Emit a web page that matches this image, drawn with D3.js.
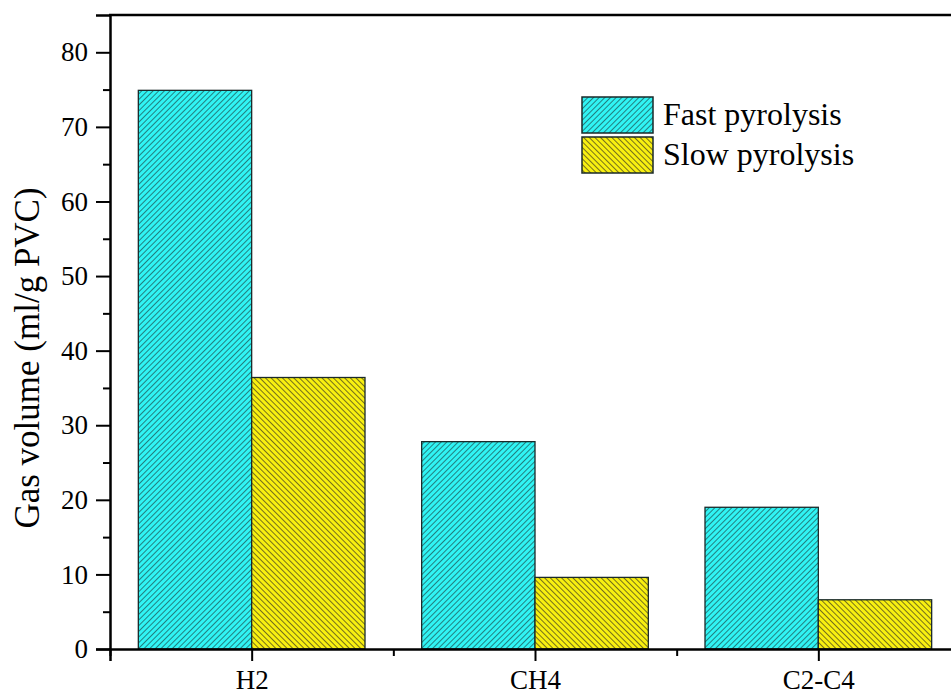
<!DOCTYPE html>
<html>
<head>
<meta charset="utf-8">
<script src="https://cdn.jsdelivr.net/npm/d3@7"></script>
<style>
  body { margin: 0; background: #fff; }
  svg { display: block; font-family: "Liberation Serif", "Times New Roman", serif; }
</style>
</head>
<body>
<svg id="chart" width="951" height="696"></svg>
<script>
var categories = ["H2", "CH4", "C2-C4"];
var fastValues = [74.9, 27.8, 19.0];
var slowValues = [36.4, 9.6, 6.6];
var seriesNames = ["Fast pyrolysis", "Slow pyrolysis"];
var yTicks = [0, 10, 20, 30, 40, 50, 60, 70, 80];

var margin = {left: 110, top: 15, bottom: 47};
var width = 951, height = 696;
var svg = d3.select("#chart");

// x as numeric positions so the axis can run past the right edge like the original
var xScale = d3.scaleLinear().domain([0.5, 3.5]).range([margin.left, 960]);
var yScale = d3.scaleLinear().domain([0, 85]).range([height - margin.bottom, margin.top]);
var barW = xScale(1.4) - xScale(1);

// hatch patterns
var defs = svg.append("defs");
function hatch(id, fill, stroke, angle) {
  var p = defs.append("pattern")
    .attr("id", id)
    .attr("patternUnits", "userSpaceOnUse")
    .attr("width", 4).attr("height", 4)
    .attr("patternTransform", "rotate(" + angle + ")");
  p.append("rect").attr("width", 4).attr("height", 4).attr("fill", fill);
  p.append("line").attr("x1", 0.5).attr("y1", 0).attr("x2", 0.5).attr("y2", 4)
    .attr("stroke", stroke).attr("stroke-width", 0.75);
}
hatch("fastHatch", "#30f4f4", "#1d5a5a", 45);
hatch("slowHatch", "#f8f010", "#4a4620", -45);

var series = [
  {name: seriesNames[0], values: fastValues, fill: "url(#fastHatch)", off: -0.4},
  {name: seriesNames[1], values: slowValues, fill: "url(#slowHatch)", off: 0}
];

series.forEach(function(s) {
  svg.selectAll(null)
    .data(s.values)
    .enter().append("rect")
    .attr("x", function(d, i) { return xScale(i + 1 + s.off); })
    .attr("y", function(d) { return yScale(d); })
    .attr("width", barW)
    .attr("height", function(d) { return yScale(0) - yScale(d); })
    .attr("fill", s.fill)
    .attr("stroke", "#1a2a2a")
    .attr("stroke-width", 1.3);
});

// y axis
svg.append("g")
  .attr("transform", "translate(" + margin.left + ",0)")
  .call(d3.axisLeft(yScale).tickValues(yTicks).tickSize(14).tickPadding(8));
svg.append("g")
  .attr("transform", "translate(" + margin.left + ",0)")
  .call(d3.axisLeft(yScale).tickValues(d3.range(5, 85, 10)).tickSize(7).tickFormat(""))
  .select(".domain").remove();

// x axis
svg.append("g")
  .attr("transform", "translate(0," + yScale(0) + ")")
  .call(d3.axisBottom(xScale).tickValues([1, 2, 3]).tickSize(12).tickPadding(9)
    .tickFormat(function(d) { return categories[d - 1]; }));
svg.append("g")
  .attr("transform", "translate(0," + yScale(0) + ")")
  .call(d3.axisBottom(xScale).tickValues([0.5, 1.5, 2.5, 3.5]).tickSize(7).tickFormat(""))
  .select(".domain").remove();

svg.selectAll(".domain").attr("stroke", "#000").attr("stroke-width", 2.5);
svg.selectAll(".tick line").attr("stroke", "#000").attr("stroke-width", 2);
svg.selectAll(".tick text")
  .attr("fill", "#000")
  .style("font-size", "27px")
  .style("font-family", "Liberation Serif, serif");

// top border
svg.append("line")
  .attr("x1", margin.left - 1).attr("x2", width)
  .attr("y1", yScale(85)).attr("y2", yScale(85))
  .attr("stroke", "#000").attr("stroke-width", 2.5);

// y label
svg.append("text")
  .attr("transform", "translate(39," + 358 + ") rotate(-90)")
  .attr("text-anchor", "middle")
  .style("font-size", "35px")
  .text("Gas volume (ml/g PVC)");

// legend
var legend = svg.append("g").attr("transform", "translate(582,97)");
series.forEach(function(s, i) {
  legend.append("rect")
    .attr("x", 0).attr("y", i * 40)
    .attr("width", 71).attr("height", 36)
    .attr("fill", s.fill)
    .attr("stroke", "#1a2a2a").attr("stroke-width", 1.5);
  legend.append("text")
    .attr("x", 81).attr("y", i * 40 + 28)
    .style("font-size", "32px")
    .text(s.name);
});
</script>
</body>
</html>
